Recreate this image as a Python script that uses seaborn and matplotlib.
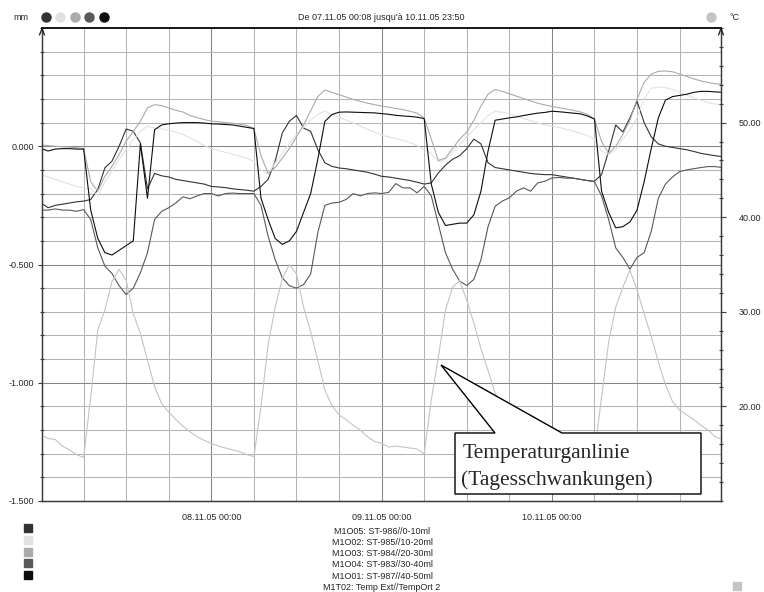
import pandas as pd
import numpy as np
import matplotlib
matplotlib.use('Agg')
import matplotlib.pyplot as plt
import matplotlib.dates as mdates
from matplotlib.lines import Line2D
from matplotlib.patches import Polygon
from matplotlib.ticker import MultipleLocator, FixedLocator, FormatStrFormatter
import seaborn as sns

sns.set_style('white')
plt.rcParams['font.family'] = ['Liberation Sans', 'DejaVu Sans']

W, H = 764, 592

# mesures horaires du 07.11.05 00:00 au 11.11.05 00:00
heures = pd.date_range('2005-11-07 00:00', periods=97, freq='h')

m1o05 = [-0.240, -0.260, -0.250, -0.245, -0.240, -0.235, -0.232, -0.225, -0.183, -0.091, -0.063, 0.000,
         0.073, 0.063, 0.014, -0.180, -0.115, -0.125, -0.130, -0.140, -0.145, -0.150, -0.155, -0.160,
         -0.170, -0.172, -0.175, -0.180, -0.183, -0.186, -0.190, -0.170, -0.140, -0.063, 0.056, 0.106,
         0.130, 0.077, 0.063, -0.014, -0.070, -0.085, -0.092, -0.095, -0.100, -0.105, -0.110, -0.118,
         -0.127, -0.130, -0.135, -0.140, -0.145, -0.152, -0.160, -0.155, -0.113, -0.080, -0.055, -0.040,
         -0.010, 0.030, 0.010, -0.070, -0.090, -0.095, -0.100, -0.105, -0.110, -0.115, -0.118, -0.120,
         -0.120, -0.125, -0.130, -0.135, -0.140, -0.145, -0.148, -0.120, -0.020, 0.090, 0.060, 0.120,
         0.190, 0.100, 0.040, 0.010, 0.000, -0.005, -0.010, -0.015, -0.022, -0.030, -0.035, -0.040,
         -0.044]

m1o02 = [-0.120, -0.130, -0.140, -0.150, -0.160, -0.170, -0.175, -0.180, -0.210, -0.150, -0.106, -0.056,
         -0.014, 0.028, 0.063, 0.085, 0.077, 0.073, 0.068, 0.060, 0.050, 0.035, 0.020, 0.003,
         -0.010, -0.018, -0.026, -0.034, -0.042, -0.050, -0.065, -0.100, -0.118, -0.070, -0.030, 0.010,
         0.050, 0.080, 0.110, 0.135, 0.148, 0.135, 0.123, 0.110, 0.098, 0.085, 0.072, 0.060,
         0.047, 0.040, 0.032, 0.025, 0.015, 0.003, -0.015, -0.030, -0.065, -0.055, -0.025, 0.005,
         0.040, 0.070, 0.100, 0.130, 0.148, 0.144, 0.138, 0.128, 0.118, 0.108, 0.098, 0.090,
         0.085, 0.080, 0.072, 0.064, 0.055, 0.045, 0.030, -0.020, -0.035, -0.015, 0.030, 0.070,
         0.120, 0.200, 0.245, 0.250, 0.248, 0.240, 0.228, 0.216, 0.205, 0.195, 0.185, 0.178,
         0.176]

m1o03 = [0.005, 0.003, 0.000, -0.002, -0.004, -0.006, -0.010, -0.150, -0.190, -0.127, -0.085, -0.035,
         0.021, 0.063, 0.106, 0.162, 0.176, 0.172, 0.162, 0.152, 0.145, 0.130, 0.121, 0.113,
         0.106, 0.104, 0.100, 0.097, 0.093, 0.088, 0.075, -0.040, -0.115, -0.090, -0.050, -0.010,
         0.040, 0.090, 0.150, 0.210, 0.238, 0.228, 0.218, 0.208, 0.198, 0.190, 0.182, 0.176,
         0.170, 0.165, 0.160, 0.155, 0.148, 0.140, 0.120, 0.030, -0.060, -0.050, -0.010, 0.030,
         0.060, 0.110, 0.170, 0.220, 0.240, 0.232, 0.222, 0.212, 0.202, 0.192, 0.182, 0.175,
         0.168, 0.163, 0.158, 0.152, 0.145, 0.135, 0.115, 0.020, -0.030, 0.000, 0.050, 0.110,
         0.200, 0.270, 0.305, 0.317, 0.318, 0.315, 0.305, 0.295, 0.285, 0.276, 0.270, 0.264,
         0.262]

m1o04 = [-0.270, -0.270, -0.265, -0.270, -0.270, -0.275, -0.268, -0.310, -0.430, -0.507, -0.538, -0.590,
         -0.627, -0.600, -0.535, -0.450, -0.310, -0.275, -0.260, -0.240, -0.214, -0.222, -0.210, -0.200,
         -0.200, -0.210, -0.200, -0.198, -0.200, -0.200, -0.200, -0.250, -0.380, -0.480, -0.556, -0.590,
         -0.600, -0.585, -0.540, -0.366, -0.250, -0.240, -0.237, -0.225, -0.200, -0.210, -0.200, -0.197,
         -0.200, -0.195, -0.158, -0.176, -0.176, -0.197, -0.169, -0.210, -0.330, -0.450, -0.520, -0.570,
         -0.589, -0.563, -0.480, -0.340, -0.254, -0.232, -0.218, -0.190, -0.176, -0.190, -0.155, -0.148,
         -0.134, -0.132, -0.135, -0.135, -0.140, -0.145, -0.150, -0.210, -0.310, -0.430, -0.470, -0.520,
         -0.470, -0.450, -0.360, -0.220, -0.160, -0.130, -0.107, -0.100, -0.095, -0.090, -0.086, -0.086,
         -0.090]

m1o01 = [-0.010, -0.020, -0.012, -0.010, -0.010, -0.012, -0.012, -0.270, -0.390, -0.450, -0.460, -0.440,
         -0.420, -0.400, 0.010, -0.220, 0.070, 0.090, 0.095, 0.098, 0.100, 0.100, 0.100, 0.098,
         0.095, 0.094, 0.092, 0.090, 0.085, 0.080, 0.075, -0.220, -0.310, -0.390, -0.415, -0.400,
         -0.360, -0.280, -0.200, -0.056, 0.105, 0.134, 0.144, 0.145, 0.144, 0.143, 0.142, 0.141,
         0.138, 0.135, 0.131, 0.128, 0.126, 0.123, 0.117, -0.160, -0.280, -0.335, -0.330, -0.325,
         -0.325, -0.290, -0.190, -0.020, 0.110, 0.115, 0.120, 0.124, 0.130, 0.135, 0.140, 0.143,
         0.148, 0.146, 0.143, 0.140, 0.137, 0.128, 0.115, -0.190, -0.280, -0.345, -0.340, -0.320,
         -0.270, -0.150, -0.010, 0.120, 0.195, 0.210, 0.215, 0.220, 0.228, 0.232, 0.232, 0.230,
         0.228]

m1t02 = [17.0, 16.6, 16.5, 15.8, 15.4, 14.9, 14.6, 21.0, 28.1, 30.2, 33.2, 34.5,
         33.3, 29.8, 27.7, 24.9, 22.1, 20.3, 19.4, 18.6, 17.9, 17.3, 16.8, 16.4,
         16.1, 15.8, 15.6, 15.4, 15.2, 14.9, 14.7, 20.0, 26.5, 30.5, 33.5, 35.0,
         34.0, 30.5, 27.9, 24.9, 21.7, 20.1, 19.1, 18.6, 18.0, 17.5, 16.8, 16.3,
         16.1, 15.7, 15.8, 15.7, 15.6, 15.5, 15.0, 20.7, 25.2, 30.2, 32.6, 33.3,
         31.2, 28.8, 26.1, 23.8, 21.4, 20.0, 19.0, 18.3, 17.7, 17.2, 16.7, 16.3,
         16.0, 15.8, 15.6, 15.5, 15.3, 15.2, 15.0, 21.0, 26.8, 30.5, 32.6, 34.4,
         32.3, 29.8, 27.4, 24.7, 22.3, 20.5, 19.6, 19.1, 18.6, 18.0, 17.5, 16.8,
         16.5]

noms = ['M1O05: ST-986//0-10ml', 'M1O02: ST-985//10-20ml', 'M1O03: ST-984//20-30ml',
        'M1O04: ST-983//30-40ml', 'M1O01: ST-987//40-50ml']
nom_temp = 'M1T02: Temp Ext//TempOrt 2'
couleurs = ['#333333', '#e2e2e2', '#ababab', '#595959', '#0d0d0d']
couleur_temp = '#c4c4c4'

df = pd.concat([pd.DataFrame({'temps': heures, 'valeur': v, 'serie': n})
                for n, v in zip(noms, [m1o05, m1o02, m1o03, m1o04, m1o01])])
df_temp = pd.DataFrame({'temps': heures, 'valeur': m1t02})


def fx(px):
    return px / W


def fy(py):
    return 1 - py / H


fig = plt.figure(figsize=(W / 100, H / 100), dpi=100)
ax = fig.add_axes([fx(42), fy(501), (721 - 42) / W, (501 - 28) / H])

sns.lineplot(data=df, x='temps', y='valeur', hue='serie', hue_order=noms,
             palette=dict(zip(noms, couleurs)), linewidth=0.8, legend=False, ax=ax)

ax2 = ax.twinx()
sns.lineplot(data=df_temp, x='temps', y='valeur', color=couleur_temp, linewidth=0.8, ax=ax2)

ax.set_xlim(pd.Timestamp('2005-11-07 00:08'), pd.Timestamp('2005-11-10 23:50'))
ax.set_ylim(-1.5, 0.5)
ax2.set_ylim(10, 60)
ax.set_xlabel('')
ax.set_ylabel('')
ax2.set_ylabel('')

# axe des dates
ax.xaxis.set_major_locator(mdates.DayLocator())
ax.xaxis.set_minor_locator(mdates.HourLocator(byhour=[6, 12, 18]))
ax.xaxis.set_major_formatter(mdates.DateFormatter('%d.%m.%y %H:%M'))

# axe gauche (mm)
ax.yaxis.set_major_locator(FixedLocator([-1.5, -1.0, -0.5, 0.0]))
ax.yaxis.set_minor_locator(MultipleLocator(0.1))
ax.yaxis.set_major_formatter(FormatStrFormatter('%.3f'))

# axe droit (°C)
ax2.yaxis.set_major_locator(FixedLocator([20, 30, 40, 50]))
ax2.yaxis.set_minor_locator(MultipleLocator(2))
ax2.yaxis.set_major_formatter(FormatStrFormatter('%.2f'))

ax.set_axisbelow(True)
ax.grid(which='major', color='#858585', linewidth=0.75)
ax.grid(which='minor', color='#b4b4b4', linewidth=0.75)
ax2.grid(False)

for a in (ax, ax2):
    for s in a.spines.values():
        s.set_color('#3a3a3a')
        s.set_linewidth(0.9)
    a.spines['top'].set_linewidth(1.4)
    a.spines['top'].set_color('#1a1a1a')

ax.tick_params(axis='x', which='major', direction='inout', length=5, width=0.8,
               color='#3a3a3a', labelsize=6.5, pad=6)
ax.tick_params(axis='x', which='minor', direction='inout', length=3, width=0.8, color='#3a3a3a')
ax.tick_params(axis='y', which='major', direction='out', length=3, width=0.8,
               color='#3a3a3a', labelsize=6.5, pad=3, left=True)
ax.tick_params(axis='y', which='minor', direction='inout', length=2.5, width=0.8,
               color='#3a3a3a', left=True)
ax2.tick_params(axis='y', which='major', direction='out', length=3.5, width=0.8,
                color='#3a3a3a', labelsize=6.5, pad=9, right=True)
ax2.tick_params(axis='y', which='minor', direction='inout', length=2.5, width=0.8,
                color='#3a3a3a', right=True)

# flèches en haut des axes verticaux
for xa in (42, 721):
    fig.add_artist(Line2D([fx(xa - 2.5), fx(xa), fx(xa + 2.5)], [fy(35), fy(28.5), fy(35)],
                          color='#1a1a1a', linewidth=0.9, transform=fig.transFigure))

# en-tête
fig.text(fx(21), fy(17), 'mm', fontsize=6.5, ha='center', va='center')
for xc, c in zip([46, 60, 74.7, 89, 104], couleurs):
    fig.add_artist(Line2D([fx(xc)], [fy(17)], marker='o', markersize=6.5, color=c,
                          linestyle='none', transform=fig.transFigure))
fig.text(fx(381), fy(17), "De 07.11.05 00:08 jusqu'à 10.11.05 23:50", fontsize=6.5,
         ha='center', va='center')
fig.add_artist(Line2D([fx(711)], [fy(17)], marker='o', markersize=6.5, color=couleur_temp,
                      linestyle='none', transform=fig.transFigure))
fig.text(fx(734), fy(17), '°C', fontsize=6.5, ha='center', va='center')

# légende en bas
for i, (n, c) in enumerate(zip(noms, couleurs)):
    fig.add_artist(Line2D([fx(28)], [fy(528 + 11.8 * i)], marker='s', markersize=5.8, color=c,
                          linestyle='none', transform=fig.transFigure))
for i, n in enumerate(noms + [nom_temp]):
    fig.text(fx(382), fy(531 + 11.3 * i), n, fontsize=6.5, ha='center', va='center')
fig.add_artist(Line2D([fx(737)], [fy(586)], marker='s', markersize=5.5, color=couleur_temp,
                      linestyle='none', transform=fig.transFigure))

# bulle d'annotation
bulle = [(455, 433), (495, 433), (441, 365), (562, 433), (701, 433), (701, 494), (455, 494)]
fig.add_artist(Polygon([(fx(x), fy(y)) for x, y in bulle], closed=True, facecolor='white',
                       edgecolor='black', linewidth=1.0, transform=fig.transFigure, zorder=5))
fig.text(fx(463), fy(458), 'Temperaturganlinie', fontsize=15.5, family='Liberation Serif',
         ha='left', va='baseline', zorder=6)
fig.text(fx(461), fy(485), '(Tagesschwankungen)', fontsize=15.5, family='Liberation Serif',
         ha='left', va='baseline', zorder=6)

fig.savefig('out.png', dpi=100)
